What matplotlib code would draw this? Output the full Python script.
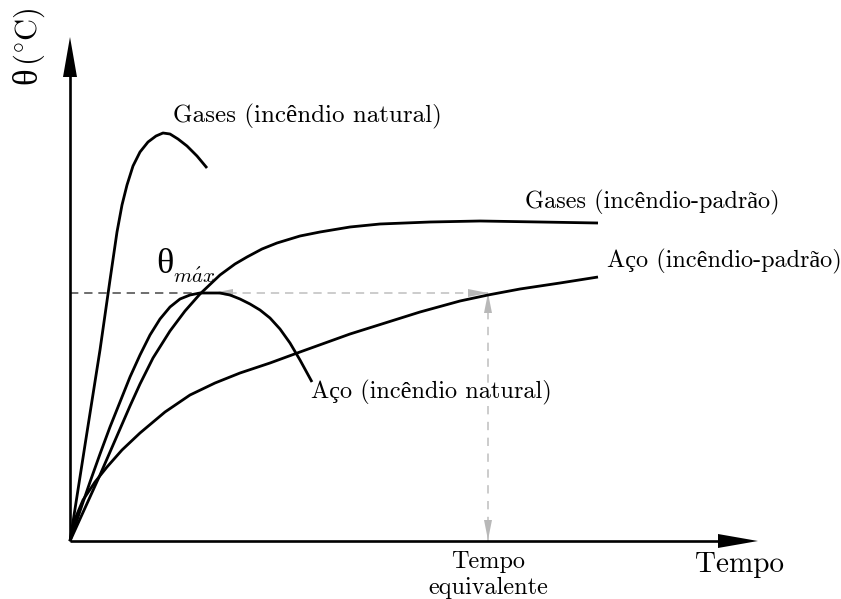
import matplotlib
matplotlib.use("Agg")
import matplotlib.pyplot as plt
from matplotlib.patches import Polygon

plt.rcParams["font.family"] = ["cmr10", "Liberation Serif", "DejaVu Serif"]
plt.rcParams["mathtext.fontset"] = "cm"
plt.rcParams["axes.unicode_minus"] = False

# -----------------------------
# Curves (time, temperature) in arbitrary units
# -----------------------------
gas_nat_t = [0, 15, 30, 40, 47, 52, 57, 63, 70, 78, 86, 93, 100, 108, 117, 127, 137]
gas_nat_y = [0, 96, 191, 261, 309, 336, 356, 375, 389, 399, 405, 408, 407, 402, 395, 385, 373]

aco_nat_t = [0, 10, 20, 30, 40, 50, 60, 70, 80, 90, 100, 110, 120, 130, 140,
             150, 160, 170, 180, 190, 200, 210, 220, 230, 242]
aco_nat_y = [0, 30, 59, 87, 114, 139, 164, 186, 206, 222, 234, 242, 246, 248, 248,
             248, 246, 242, 237, 231, 223, 212, 198, 181, 159]

gas_pad_t = [0, 10, 20, 30, 40, 50, 60, 70, 83, 100, 115, 130, 150, 165, 177,
             192, 207, 230, 250, 280, 310, 360, 410, 470, 528]
gas_pad_y = [0, 22, 44, 66, 89, 112, 135, 157, 183, 210, 230, 247, 266, 277, 284,
             292, 298, 305, 309, 314, 317, 319, 320, 319, 318]

aco_pad_t = [0, 5, 13, 25, 37, 52, 70, 95, 120, 145, 170, 200, 230, 255, 280,
             315, 350, 390, 418, 450, 490, 528]
aco_pad_y = [0, 22, 41, 59, 74, 91, 108, 129, 146, 158, 168, 178, 189, 198, 207,
             218, 229, 240, 246, 252, 258, 264]

theta_max = 248
t_peak = 130
t_equiv = 418

fig = plt.figure(figsize=(8.41, 5.99), dpi=100)
ax = fig.add_axes([0, 0, 1, 1])
ax.set_xlim(-70, 771)
ax.set_ylim(-58, 541)
ax.axis("off")


def head(tip, d, length=20, width=8, color="k"):
    # triangle arrow head pointing along unit direction d
    x, y = tip
    dx, dy = d
    bx, by = x - dx * length, y - dy * length
    px, py = -dy * width / 2, dx * width / 2
    ax.add_patch(Polygon([(x, y), (bx + px, by + py), (bx - px, by - py)],
                         closed=True, color=color, lw=0, zorder=3))


# axes with arrows
ax.plot([0, 0], [0, 470], color="k", lw=1.9, solid_capstyle="butt")
ax.plot([0, 655], [0, 0], color="k", lw=1.9, solid_capstyle="butt")
head((0, 504), (0, 1), length=40, width=14)
head((688, 0), (1, 0), length=40, width=14)

# theta max / equivalent time guides
light = "#c4c4c4"
ax.plot([0, t_peak], [theta_max, theta_max], color="#555555", lw=1.2,
        dashes=(5, 3.5), zorder=1)
ax.plot([t_peak, t_equiv], [theta_max, theta_max], color=light, lw=1.2,
        dashes=(5, 3.5), zorder=1)
ax.plot([t_equiv, t_equiv], [0, theta_max], color=light, lw=1.2,
        dashes=(5, 4.5), zorder=1)
head((143, theta_max), (-1, 0), color="#b8b8b8")
head((t_equiv, theta_max), (1, 0), color="#b8b8b8")
head((t_equiv, theta_max), (0, 1), color="#b8b8b8")
head((t_equiv, 1), (0, -1), color="#b8b8b8")

# curves
for t, y in [(gas_nat_t, gas_nat_y), (aco_nat_t, aco_nat_y),
             (gas_pad_t, gas_pad_y), (aco_pad_t, aco_pad_y)]:
    ax.plot(t, y, color="k", lw=2.0, solid_joinstyle="round",
            solid_capstyle="butt", zorder=4)

# labels
fs = 17.5
ax.text(103, 419, "Gases (incêndio natural)", fontsize=18, va="baseline")
ax.text(455, 333, "Gases (incêndio-padrão)", fontsize=fs, va="baseline")
ax.text(537, 274, "Aço (incêndio-padrão)", fontsize=fs, va="baseline")
ax.text(241, 143, "Aço (incêndio natural)", fontsize=fs, va="baseline")

ax.text(86, 268, "θ", fontsize=26, va="baseline")
ax.text(103, 258, r"$m\acute{a}x$", fontsize=15, va="baseline")

ax.text(625, -31, "Tempo", fontsize=21, va="baseline")
ax.text(t_equiv, -27, "Tempo", fontsize=17.5, ha="center", va="baseline")
ax.text(t_equiv, -53, "equivalente", fontsize=17.5, ha="center", va="baseline")

# y label: theta and unit drawn separately so the glyphs come from proper fonts
ax.text(-42, 465, "θ", fontsize=25, rotation=90, ha="center", va="center")
ax.text(-41, 504, r"($^{\circ}$C)", fontsize=22, rotation=90,
        ha="center", va="center")

fig.savefig("out.png", dpi=100)
